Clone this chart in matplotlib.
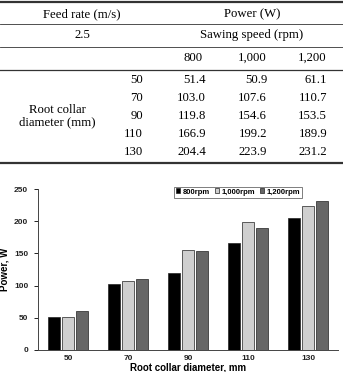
import matplotlib
matplotlib.use('Agg')
import matplotlib.pyplot as plt
from matplotlib.lines import Line2D
import numpy as np

diameters = [50, 70, 90, 110, 130]
speeds = ['800', '1,000', '1,200']
p800 = [51.4, 103.0, 119.8, 166.9, 204.4]
p1000 = [50.9, 107.6, 154.6, 199.2, 223.9]
p1200 = [61.1, 110.7, 153.5, 189.9, 231.2]
legend_labels = ['800rpm', '1,000rpm', '1,200rpm']
bar_colors = ['#000000', '#cfcfcf', '#666666']

W, H = 343, 372
fig = plt.figure(figsize=(W / 100, H / 100), dpi=100)
plt.rcParams['font.family'] = ['Liberation Sans', 'DejaVu Sans']

def fx(px):
    return px / W

def fy(py):
    return 1 - py / H

serif = 'Liberation Serif'
fs = 9.2

# table rules
for y, lw in [(2, 1.6), (24, 0.6), (47, 0.6), (70, 0.9), (163, 1.6)]:
    fig.add_artist(Line2D([0, 1], [fy(y), fy(y)], color='#333333', lw=lw))

fig.text(fx(82), fy(14), 'Feed rate (m/s)', family=serif, fontsize=fs, ha='center', va='center')
fig.text(fx(252), fy(14), 'Power (W)', family=serif, fontsize=fs, ha='center', va='center')
fig.text(fx(82), fy(35), '2.5', family=serif, fontsize=fs, ha='center', va='center')
fig.text(fx(252), fy(35), 'Sawing speed (rpm)', family=serif, fontsize=fs, ha='center', va='center')
for s, x in zip(speeds, [193, 252, 312]):
    fig.text(fx(x), fy(58), s, family=serif, fontsize=fs, ha='center', va='center')
fig.text(fx(57), fy(116), 'Root collar\ndiameter (mm)', family=serif, fontsize=fs,
         ha='center', va='center', linespacing=1.05)
row_y = [80, 98, 116, 134, 152]
for i, y in enumerate(row_y):
    fig.text(fx(143), fy(y), str(diameters[i]), family=serif, fontsize=fs, ha='right', va='center')
    for vals, x in zip([p800, p1000, p1200], [206, 267, 327]):
        fig.text(fx(x), fy(y), f'{vals[i]:.1f}', family=serif, fontsize=fs, ha='right', va='center')

# bar chart
ax = fig.add_axes([fx(38), fy(350), fx(300), (350 - 189) / H])
x = np.arange(len(diameters))
step = 0.233
bw = 0.185
for k, (vals, c, lab) in enumerate(zip([p800, p1000, p1200], bar_colors, legend_labels)):
    ax.bar(x + (k - 1) * step, vals, width=bw, color=c, edgecolor='#222222', linewidth=0.5, label=lab)

ax.set_xlim(-0.5, len(diameters) - 0.5)
ax.set_ylim(0, 250)
ax.set_yticks(range(0, 251, 50))
ax.set_xticks(x)
ax.set_xticklabels([str(d) for d in diameters])
for sp in ['top', 'right']:
    ax.spines[sp].set_visible(False)
for sp in ['left', 'bottom']:
    ax.spines[sp].set_linewidth(0.7)
    ax.spines[sp].set_color('#444444')
ax.tick_params(axis='y', length=3, width=0.7, labelsize=6, pad=4, colors='#222222')
ax.tick_params(axis='x', length=0, labelsize=6, pad=3.5, colors='#222222')
for t in ax.get_xticklabels() + ax.get_yticklabels():
    t.set_fontweight('bold')
ax.set_ylabel('Power, W', fontsize=7, fontweight='bold', labelpad=3)
ax.set_xlabel('Root collar diameter, mm', fontsize=7, fontweight='bold', labelpad=0.5)

leg = ax.legend(loc='upper left', bbox_to_anchor=((174 - 38) / 300, 1.015), ncol=3,
                prop={'size': 5.5, 'weight': 'bold'}, frameon=True, fancybox=False,
                handlelength=0.6, handleheight=0.6, handletextpad=0.3, columnspacing=0.6,
                borderpad=0.25, borderaxespad=0)
leg.get_frame().set_edgecolor('#444444')
leg.get_frame().set_linewidth(0.6)

fig.savefig('out.png', dpi=100)
